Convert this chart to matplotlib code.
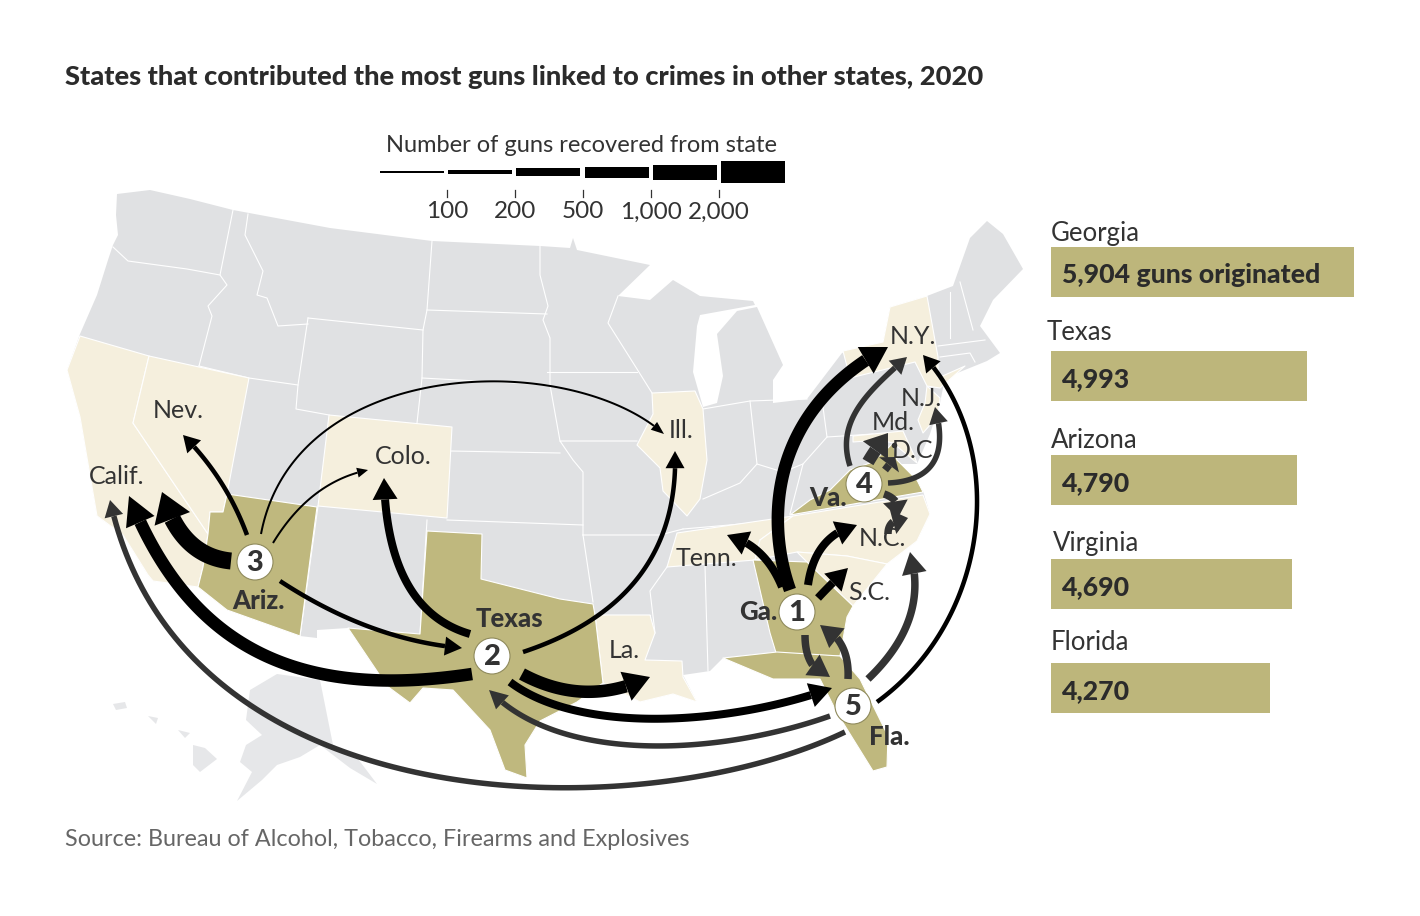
"""Guns linked to crimes in other states: flow map plus top five bars."""
import matplotlib
matplotlib.use("Agg")
import matplotlib.pyplot as plt
import matplotlib.patches as mpatches
import numpy as np

W, H = 1420, 916
plt.rcParams["font.family"] = ["Lato", "DejaVu Sans"]

# Colors
C_LAND = "#e0e1e3"
C_ALASKA = "#e6e7e9"
C_CREAM = "#f5efdd"
C_OLIVE = "#bfb87e"
C_BAR = "#bdb67b"
C_TEXT = "#333333"
C_DARK = "#333333"
C_BLACK = "#000000"

# Bars on the right
top_states = ["Georgia", "Texas", "Arizona", "Virginia", "Florida"]
top_guns = [5904, 4993, 4790, 4690, 4270]
top_labels = ["5,904 guns originated", "4,993", "4,790", "4,690", "4,270"]
top_label_x = [1051, 1047, 1051, 1053, 1051]
top_label_y = [232, 331, 438, 541, 641]

# Legend
legend_ticks = [100, 200, 500, 1000, 2000]
legend_tick_labels = ["100", "200", "500", "1,000", "2,000"]
legend_widths = [2, 4, 7.5, 11, 15, 22]

# Flows, gun counts are estimated from the line width class
flow_guns = [1500, 150, 80, 80, 150,
             800, 400, 150, 700, 300,
             150, 150, 300, 300, 150,
             800, 300, 300, 300, 300,
             150, 800, 300, 150, 300, 300]
flow_colors = ["k", "k", "k", "k", "k",
               "k", "k", "k", "k", "k",
               "d", "d", "d", "d", "k",
               "k", "k", "k", "k", "d",
               "d", "d", "d", "d", "d", "d"]
flow_routes = [
    # Arizona: Calif., Nev., Colo., Ill., Texas
    [(231, 561), (180, 556), (162, 492)],
    [(247, 535), (226, 478), (183, 435)],
    [(273, 543), (310, 482), (368, 470)],
    [(261, 534), (295, 355), (570, 350), (664, 434)],
    [(280, 581), (370, 640), (462, 648)],
    # Texas: Calif., Colo., Ill., La., Fla.
    [(472, 674), (300, 700), (190, 650), (129, 496)],
    [(470, 634), (387, 610), (384, 478)],
    [(523, 652), (680, 600), (675, 451)],
    [(522, 674), (585, 708), (650, 677)],
    [(510, 682), (580, 735), (730, 725), (832, 688)],
    # Florida: Texas, Calif., Ga., N.C., N.Y.
    [(830, 716), (720, 755), (560, 765), (489, 690)],
    [(845, 732), (640, 830), (180, 825), (110, 500)],
    [(848, 679), (850, 640), (820, 625)],
    [(868, 679), (930, 620), (910, 552)],
    [(877, 702), (990, 620), (1010, 450), (923, 355)],
    # Georgia: N.Y., Tenn., N.C., S.C., Fla.
    [(790, 590), (765, 520), (770, 410), (888, 347)],
    [(782, 587), (765, 545), (727, 535)],
    [(808, 585), (815, 535), (857, 525)],
    [(818, 598), (830, 585), (848, 568)],
    [(805, 635), (805, 670), (830, 677)],
    # Virginia: N.Y., Md., D.C., N.J., N.C.
    [(850, 466), (835, 420), (870, 390), (907, 357)],
    [(868, 462), (875, 450), (888, 433)],
    [(885, 470), (889, 465), (895, 457)],
    [(888, 483), (955, 480), (935, 407)],
    [(884, 494), (902, 500), (898, 518)],
    [(888, 534), (888, 518), (908, 518)],
]

# Map geometry, already projected to the picture's pixels
land = [(117, 194), (150, 190), (190, 199), (233, 210), (330, 228), (432, 241), (540, 246), (570, 248),
        (573, 238), (577, 250), (650, 265), (618, 296), (650, 300), (673, 280),
        (700, 296), (753, 301), (755, 305), (700, 315), (697, 326), (693, 372),
        (703, 407), (717, 403), (723, 376), (717, 334), (737, 311), (757, 307),
        (783, 365), (773, 380), (773, 403), (807, 399), (842, 353), (883, 342),
        (890, 307), (927, 296), (953, 286), (970, 238), (987, 221), (1003, 234),
        (1023, 269), (993, 300), (980, 326), (1000, 353), (987, 361), (945, 378),
        (940, 403), (930, 434), (917, 464), (900, 464), (923, 491), (930, 514),
        (917, 541), (887, 564), (853, 606), (847, 617), (840, 656), (860, 679),
        (888, 736), (887, 767), (873, 771), (837, 713), (820, 679), (773, 679),
        (723, 658), (710, 671), (683, 675), (697, 702), (673, 694), (640, 702),
        (603, 683), (577, 702), (540, 721), (525, 745), (527, 778), (505, 770),
        (490, 730), (453, 690), (423, 688), (410, 703), (387, 686), (348, 628),
        (317, 630), (317, 638), (300, 636), (227, 610), (198, 587), (153, 581),
        (148, 575), (123, 535), (97, 516), (80, 417), (67, 370), (80, 334),
        (97, 295), (108, 260), (113, 245), (118, 235), (116, 215)]
alaska = [(250, 690), (277, 674), (320, 680), (333, 745), (355, 755), (377, 784),
          (350, 768), (320, 745), (300, 757), (277, 765), (262, 780), (237, 801),
          (252, 772), (240, 762), (246, 745), (262, 735), (246, 720)]
hawaii = [[(193, 745), (205, 748), (217, 759), (200, 772), (193, 765)],
          [(113, 704), (125, 702), (127, 708), (116, 710)],
          [(148, 716), (158, 718), (156, 724)],
          [(178, 730), (190, 733), (185, 738)]]
cream_states = {
    "CA": [(80, 336), (149, 356), (133, 423), (208, 534), (203, 567), (198, 587),
           (153, 581), (148, 575), (123, 535), (97, 516), (80, 417), (67, 370)],
    "NV": [(149, 356), (249, 378), (227, 494), (223, 512), (210, 512), (208, 534),
           (133, 423)],
    "CO": [(329, 415), (452, 427), (447, 518), (318, 506)],
    "LA": [(595, 615), (650, 615), (655, 633), (645, 660), (682, 661), (683, 677),
           (697, 702), (673, 694), (640, 702), (603, 683)],
    "IL": [(652, 393), (695, 391), (703, 409), (707, 460), (700, 499), (687, 516),
           (663, 491), (660, 468), (637, 445), (653, 414)],
    "TN": [(677, 533), (793, 516), (760, 540), (755, 560), (667, 567)],
    "NC": [(793, 516), (923, 495), (930, 514), (917, 541), (887, 564), (847, 556),
           (797, 552), (755, 560), (760, 540)],
    "SC": [(797, 552), (847, 556), (887, 564), (853, 606), (807, 562)],
    "MD": [(853, 436), (903, 431), (913, 453), (917, 463), (893, 443), (880, 440),
           (853, 442)],
    "NJ": [(927, 386), (940, 398), (938, 416), (923, 433), (918, 420), (925, 403)],
    "NY": [(843, 351), (883, 342), (890, 307), (927, 296), (938, 357), (938, 378),
           (965, 366), (940, 388), (927, 386), (915, 362), (850, 378)],
}
olive_states = {
    "AZ": [(227, 494), (317, 507), (300, 636), (227, 610), (198, 587), (203, 567),
           (208, 534), (210, 512), (223, 512)],
    "TX": [(427, 531), (482, 534), (481, 579), (560, 599), (593, 604), (595, 615),
           (603, 683), (577, 702), (540, 721), (525, 745), (527, 778), (505, 770),
           (490, 730), (453, 690), (423, 688), (410, 703), (387, 686), (348, 628),
           (420, 634)],
    "GA": [(753, 560), (807, 562), (853, 606), (847, 617), (840, 656), (777, 656),
           (770, 633)],
    "FL": [(723, 658), (777, 652), (840, 656), (860, 679), (888, 736), (887, 767),
           (873, 771), (837, 713), (820, 679), (773, 679)],
    "VA": [(790, 515), (810, 500), (830, 490), (850, 470), (870, 463), (883, 453),
           (893, 443), (897, 460), (917, 480), (923, 492)],
}
borders = [
    [(113, 247), (128, 261), (187, 269), (220, 275)],
    [(233, 210), (220, 275), (227, 285), (208, 306), (212, 316), (199, 366)],
    [(248, 214), (245, 235), (263, 271), (257, 295), (267, 298), (278, 326), (308, 324)],
    [(199, 366), (249, 378), (298, 385)],
    [(308, 318), (298, 385), (296, 409), (329, 415)],
    [(308, 318), (423, 330)],
    [(432, 241), (427, 310), (423, 330), (422, 378), (417, 423)],
    [(427, 310), (547, 314)],
    [(422, 378), (550, 385)],
    [(450, 451), (560, 453)],
    [(447, 520), (583, 525)],
    [(318, 506), (300, 636)],
    [(427, 520), (420, 634)],
    [(540, 246), (540, 275), (548, 306), (543, 320), (550, 338), (550, 385), (560, 441)],
    [(547, 372), (637, 372)],
    [(618, 296), (608, 323), (637, 369), (652, 393)],
    [(637, 441), (560, 441), (573, 460), (583, 472), (583, 535)],
    [(583, 535), (660, 535), (683, 529)],
    [(583, 535), (593, 602)],
    [(595, 615), (650, 615)],
    [(667, 567), (650, 591), (655, 633)],
    [(705, 566), (708, 671)],
    [(703, 409), (750, 401), (807, 399)],
    [(750, 401), (757, 464)],
    [(703, 499), (740, 483), (757, 464), (783, 472), (803, 464), (827, 437)],
    [(823, 407), (827, 437), (873, 434)],
    [(790, 514), (803, 464)],
    [(842, 376), (823, 407)],
    [(683, 529), (787, 520)],
    [(950, 292), (950, 338)],
    [(960, 282), (973, 330)],
    [(938, 346), (985, 340)],
    [(940, 357), (970, 353), (975, 362)],
]

fig = plt.figure(figsize=(W / 100, H / 100), dpi=100, facecolor="white")
ax = fig.add_axes([0, 0, 1, 1])
ax.set_xlim(0, W)
ax.set_ylim(H, 0)
ax.axis("off")


def px(w):
    """Pixels to points."""
    return w * 72 / 100


def shape(points, color, edge="white", lw=0.8, z=1):
    ax.add_patch(mpatches.Polygon(points, closed=True, facecolor=color, edgecolor=edge,
                                  linewidth=lw, joinstyle="round", zorder=z))


def bezier(points, n=120):
    t = np.linspace(0, 1, n)[:, None]
    p = np.array(points, dtype=float)
    if len(p) == 3:
        return (1 - t) ** 2 * p[0] + 2 * t * (1 - t) * p[1] + t ** 2 * p[2]
    return ((1 - t) ** 3 * p[0] + 3 * t * (1 - t) ** 2 * p[1]
            + 3 * t ** 2 * (1 - t) * p[2] + t ** 3 * p[3])


def flow(route, guns, color):
    """Curved shaft with a triangle head, width from the gun count's class."""
    k = np.searchsorted(legend_ticks, guns)
    w = ([2, 5.5, 7.5, 12.5, 17] if color == "d" else [2, 4.5, 8, 12.5, 17])[k]
    head_w = [10, 19, 25, 31, 38][k]
    head_l = [10, 16, 21, 25, 28][k]
    c = C_BLACK if color == "k" else C_DARK
    curve = bezier(route)
    tip = curve[-1]
    chord = np.hypot(*(curve[0] - tip))
    head_l = min(head_l, chord * 0.6)
    keep = np.hypot(*(curve - tip).T) >= head_l
    shaft = curve[keep]
    base = shaft[-1]
    d = (tip - base) / np.hypot(*(tip - base))
    n = np.array([-d[1], d[0]])
    ax.plot(shaft[:, 0], shaft[:, 1], color=c, lw=px(w), solid_capstyle="butt", zorder=4)
    ax.add_patch(mpatches.Polygon([base + n * head_w / 2, tip, base - n * head_w / 2],
                                  closed=True, facecolor=c, edgecolor="none", zorder=4))


def label(x, y, text, size=16, bold=False, color=C_TEXT, ha="center", z=6):
    # the +2 brings Lato's optical centre onto the reference's text line
    ax.text(x, y + 2, text, fontsize=size, ha=ha, va="center", color=color,
            fontweight=900 if bold else "normal", zorder=z)


# Map
shape(land, C_LAND, edge="none")
shape(alaska, C_ALASKA, edge="none")
for isle in hawaii:
    shape(isle, C_ALASKA, edge="none")
for line in borders:
    xs, ys = zip(*line)
    ax.plot(xs, ys, color="white", lw=0.8, zorder=1.5)
for pts in cream_states.values():
    shape(pts, C_CREAM, z=2)
for pts in olive_states.values():
    shape(pts, C_OLIVE, z=3)

# Flows
for route, guns, color in zip(flow_routes, flow_guns, flow_colors):
    flow(route, guns, color)

# Numbered circles
for x, y, n in [(797, 612, "1"), (492, 656, "2"), (255, 562, "3"), (864, 484, "4"), (853, 706, "5")]:
    ax.add_patch(mpatches.Circle((x, y), 18, facecolor="white", edgecolor="#8f8a5c",
                                 linewidth=0.8, zorder=5))
    label(x, y - 1, n, size=21, bold=True)

# State names
for x, y, name in [(178, 409, "Nev."), (117, 474, "Calif."), (403, 454, "Colo."), (681, 428, "Ill."),
                   (706, 557, "Tenn."), (624, 649, "La."), (869, 590, "S.C."), (882, 537, "N.C."),
                   (915, 449, "D.C."), (893, 420, "Md."), (921, 396, "N.J."), (913, 334, "N.Y.")]:
    label(x, y, name, size=18)
for x, y, name in [(258, 599, "Ariz."), (509, 617, "Texas"), (758, 610, "Ga."),
                   (828, 496, "Va."), (889, 735, "Fla.")]:
    label(x, y, name, size=18.5, bold=True)
ax.plot([894], [445], "o", color=C_TEXT, ms=3, zorder=6)

# Title and source
label(65, 75, "States that contributed the most guns linked to crimes in other states, 2020",
      size=19.6, bold=True, ha="left", color="#2b2b2b")
label(65, 837, "Source: Bureau of Alcohol, Tobacco, Firearms and Explosives",
      size=16.85, ha="left", color="#666666")

# Legend
label(582, 143, "Number of guns recovered from state", size=17)
for i, w in enumerate(legend_widths):
    x0 = 380 + i * 68.2
    ax.add_patch(mpatches.Rectangle((x0, 172 - w / 2), 64, w, facecolor="black", edgecolor="none"))
for i, text in enumerate(legend_tick_labels):
    x = 447 + i * 68
    ax.plot([x, x], [190, 197], color="#333333", lw=0.9)
    label(x, 210, text, size=17.5)

# Bars on the right, one axes for the real scale
ax_bar = fig.add_axes([1051 / W, 1 - 713 / H, 303 / W, 466 / H])
ax_bar.barh(np.arange(len(top_guns)), top_guns, height=50 / 104, color=C_BAR)
ax_bar.set_xlim(0, max(top_guns))
ax_bar.set_ylim(4 + 25 / 104, -25 / 104)
ax_bar.axis("off")
for i, text in enumerate(top_labels):
    ax_bar.text(max(top_guns) * 11 / 303, i + 0.03, text, fontsize=19.2, fontweight=900,
                color="#2b2b2b", va="center")
for i, name in enumerate(top_states):
    label(top_label_x[i], top_label_y[i], name, size=18.5, ha="left")

fig.savefig("out.png", dpi=100)
